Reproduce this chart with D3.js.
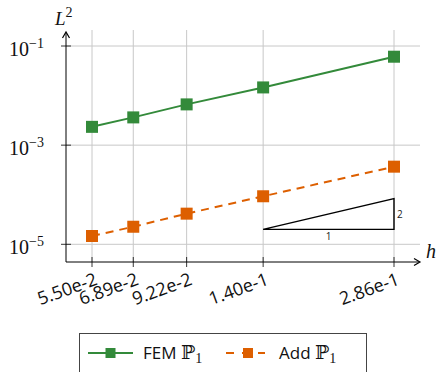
<!DOCTYPE html>
<html><head><meta charset="utf-8">
<script src="https://cdn.jsdelivr.net/npm/d3@7"></script>
<style>body{margin:0;background:#fff}svg{display:block}</style>
</head><body>
<script>
const hValues = [0.055, 0.0689, 0.0922, 0.140, 0.286];
const hLabels = ["5.50e-2", "6.89e-2", "9.22e-2", "1.40e-1", "2.86e-1"];
const femValues = [2.34e-3, 3.63e-3, 6.64e-3, 1.46e-2, 6.08e-2];
const addValues = [1.47e-5, 2.26e-5, 4.15e-5, 9.31e-5, 3.68e-4];
const yTicks = [1e-1, 1e-3, 1e-5];
const yTickExp = ["\u22121", "\u22123", "\u22125"];
const slopeBase = 2.0e-5;
const slopeOrder = 2;

(function () {
const W = 438, H = 372;
const green = "#338a3a", orange = "#dd5f00";
const svg = d3.select("body").append("svg").attr("width", W).attr("height", H);

const x = d3.scaleLog().domain([0.055, 0.286]).range([92, 394]);
const y = d3.scaleLog().domain([1e-5, 1e-1]).range([244.3, 46]);
const axL = 66, axB = 262, axT = 30, axR = 420;

// grid
const g = svg.append("g");
g.selectAll(".vg").data(hValues).enter().append("line")
  .attr("x1", d => x(d)).attr("x2", d => x(d)).attr("y1", axT).attr("y2", axB)
  .attr("stroke", "#c8c8c8").attr("stroke-width", 1);
g.selectAll(".hg").data(yTicks).enter().append("line")
  .attr("x1", axL).attr("x2", axR).attr("y1", d => y(d)).attr("y2", d => y(d))
  .attr("stroke", "#c8c8c8").attr("stroke-width", 1);

// axes lines
svg.append("line").attr("x1", axL).attr("x2", axL).attr("y1", axB).attr("y2", 33).attr("stroke", "#000");
svg.append("line").attr("x1", axL).attr("x2", 419).attr("y1", axB).attr("y2", axB).attr("stroke", "#000");
svg.append("path").attr("d", `M${axL-3.5},${38} L${axL},${32} L${axL+3.5},${38}`).attr("fill", "none").attr("stroke", "#000").attr("stroke-width", 1.2);
svg.append("path").attr("d", `M${414},${axB-3.5} L${420},${axB} L${414},${axB+3.5}`).attr("fill", "none").attr("stroke", "#000").attr("stroke-width", 1.2);

// ticks
svg.selectAll(".xt").data(hValues).enter().append("line")
  .attr("x1", d => x(d)).attr("x2", d => x(d)).attr("y1", axB - 5).attr("y2", axB + 5)
  .attr("stroke", "#000").attr("stroke-width", 0.8);
svg.selectAll(".yt").data(yTicks).enter().append("line")
  .attr("x1", axL - 5).attr("x2", axL + 5).attr("y1", d => y(d)).attr("y2", d => y(d))
  .attr("stroke", "#000").attr("stroke-width", 0.8);

// x tick labels
svg.selectAll(".xl").data(hValues).enter().append("text")
  .attr("transform", d => `translate(${x(d)+2},${axB + 10}) rotate(-20)`)
  .attr("text-anchor", "end").attr("dy", "0.72em")
  .attr("font-family", "Open Sans").attr("font-size", 18).attr("fill", "#111")
  .text((d, i) => hLabels[i]);

// y tick labels
yTicks.forEach((d, i) => {
  const t = svg.append("text").attr("x", 9).attr("y", y(d) + 10)
    .attr("font-family", "Liberation Serif").attr("font-size", 20).attr("fill", "#111");
  t.append("tspan").text("10");
  t.append("tspan").attr("dy", -8).attr("font-size", 14).text(yTickExp[i]);
});

// axis labels
const lt = svg.append("text").attr("x", 55).attr("y", 25).attr("font-family", "Liberation Serif")
  .attr("font-style", "italic").attr("font-size", 19).attr("fill", "#111");
lt.append("tspan").text("L");
lt.append("tspan").attr("dy", -8).attr("font-size", 14).attr("font-style", "normal").text("2");
svg.append("text").attr("x", 426).attr("y", 258).attr("font-family", "Liberation Serif")
  .attr("font-style", "italic").attr("font-size", 20).attr("fill", "#111").text("h");

// slope triangle
const h0 = hValues[3], h1 = hValues[4];
const triTop = slopeBase * Math.pow(h1 / h0, slopeOrder);
svg.append("path")
  .attr("d", `M${x(h0)},${y(slopeBase)} L${x(h1)},${y(slopeBase)} L${x(h1)},${y(triTop)} Z`)
  .attr("fill", "none").attr("stroke", "#000").attr("stroke-width", 1.4);
svg.append("text").attr("x", (x(h0) + x(h1)) / 2).attr("y", y(slopeBase) + 11)
  .attr("text-anchor", "middle").attr("font-family", "Open Sans").attr("font-size", 10).attr("fill", "#222").text("1");
svg.append("text").attr("x", x(h1) + 3).attr("y", (y(slopeBase) + y(triTop)) / 2 + 4)
  .attr("font-family", "Open Sans").attr("font-size", 10).attr("fill", "#222").text(slopeOrder);

// series
const line = d3.line().x((d, i) => x(hValues[i])).y(d => y(d));
svg.append("path").datum(femValues).attr("d", line).attr("fill", "none")
  .attr("stroke", green).attr("stroke-width", 2);
svg.append("path").datum(addValues).attr("d", line).attr("fill", "none")
  .attr("stroke", orange).attr("stroke-width", 2).attr("stroke-dasharray", "8,6");
const ms = 12;
svg.selectAll(".fm").data(femValues).enter().append("rect")
  .attr("x", (d, i) => x(hValues[i]) - ms / 2).attr("y", d => y(d) - ms / 2)
  .attr("width", ms).attr("height", ms).attr("fill", green);
svg.selectAll(".am").data(addValues).enter().append("rect")
  .attr("x", (d, i) => x(hValues[i]) - ms / 2).attr("y", d => y(d) - ms / 2)
  .attr("width", ms).attr("height", ms).attr("fill", orange);

// legend
const lg = svg.append("g");
lg.append("rect").attr("x", 79.5).attr("y", 333.5).attr("width", 287).attr("height", 60)
  .attr("fill", "#fff").attr("stroke", "#444").attr("stroke-width", 1);
const ly = 353;
lg.append("line").attr("x1", 88).attr("x2", 133).attr("y1", ly).attr("y2", ly).attr("stroke", green).attr("stroke-width", 2);
lg.append("rect").attr("x", 105.5).attr("y", ly - 5).attr("width", 10).attr("height", 10).attr("fill", green);
lg.append("line").attr("x1", 226).attr("x2", 265).attr("y1", ly).attr("y2", ly).attr("stroke", orange).attr("stroke-width", 2).attr("stroke-dasharray", "8,8");
lg.append("rect").attr("x", 243).attr("y", ly - 5).attr("width", 10).attr("height", 10).attr("fill", orange);
function legText(xp, label) {
  const t = lg.append("text").attr("x", xp).attr("y", ly + 6).attr("font-family", "Open Sans").attr("font-size", 17).attr("fill", "#111");
  t.append("tspan").text(label + " ");
  t.append("tspan").attr("font-family", "DejaVu Serif").attr("font-size", 19).text("\u2119");
  t.append("tspan").attr("font-family", "Liberation Serif").attr("font-size", 14).attr("dy", 4).text("1");
}
legText(143, "FEM");
legText(279, "Add");
})();
</script>
</body></html>
